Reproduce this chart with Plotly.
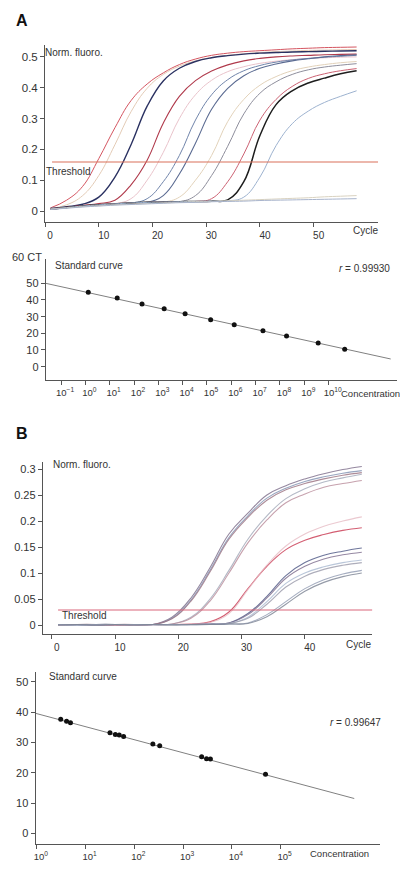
import plotly.graph_objects as go

W, H = 400, 873
FONT = "Liberation Sans, Arial, sans-serif"
TXT = "#333333"
AX = "#555555"

# ---------------- Panel A: amplification curves ----------------
cycles_a = [1, 4, 7, 10, 13, 16, 19, 22, 25, 28, 31, 34, 37, 40, 43, 46, 49, 52, 55, 58]
a_curves = [
    [0.010, 0.035, 0.080, 0.170, 0.270, 0.358, 0.412, 0.448, 0.475, 0.493, 0.505, 0.512, 0.517, 0.520, 0.523, 0.526, 0.528, 0.530, 0.531, 0.532],
    [0.008, 0.020, 0.050, 0.115, 0.215, 0.322, 0.398, 0.443, 0.470, 0.487, 0.498, 0.505, 0.510, 0.514, 0.517, 0.519, 0.521, 0.522, 0.523, 0.524],
    [0.008, 0.014, 0.022, 0.045, 0.110, 0.215, 0.340, 0.422, 0.463, 0.485, 0.497, 0.504, 0.509, 0.512, 0.514, 0.516, 0.517, 0.518, 0.519, 0.520],
    [0.007, 0.012, 0.018, 0.024, 0.035, 0.085, 0.165, 0.285, 0.372, 0.423, 0.454, 0.474, 0.487, 0.495, 0.500, 0.503, 0.505, 0.507, 0.508, 0.509],
    [0.006, 0.011, 0.016, 0.020, 0.024, 0.040, 0.100, 0.190, 0.300, 0.377, 0.424, 0.452, 0.468, 0.479, 0.486, 0.491, 0.495, 0.497, 0.499, 0.500],
    [0.006, 0.011, 0.016, 0.020, 0.023, 0.026, 0.040, 0.095, 0.180, 0.295, 0.377, 0.426, 0.455, 0.472, 0.483, 0.490, 0.495, 0.499, 0.502, 0.505],
    [0.006, 0.011, 0.016, 0.020, 0.023, 0.026, 0.028, 0.050, 0.120, 0.220, 0.330, 0.398, 0.439, 0.463, 0.477, 0.487, 0.494, 0.500, 0.504, 0.507],
    [0.006, 0.011, 0.016, 0.020, 0.023, 0.026, 0.028, 0.029, 0.045, 0.100, 0.180, 0.290, 0.362, 0.408, 0.436, 0.455, 0.467, 0.475, 0.481, 0.485],
    [0.006, 0.011, 0.016, 0.020, 0.023, 0.026, 0.028, 0.029, 0.030, 0.050, 0.115, 0.210, 0.315, 0.382, 0.419, 0.443, 0.458, 0.467, 0.473, 0.478],
    [0.006, 0.011, 0.016, 0.020, 0.023, 0.026, 0.028, 0.029, 0.030, 0.031, 0.040, 0.095, 0.185, 0.295, 0.362, 0.404, 0.430, 0.445, 0.455, 0.462],
    [0.006, 0.011, 0.016, 0.020, 0.023, 0.026, 0.028, 0.029, 0.030, 0.031, 0.032, 0.036, 0.095, 0.245, 0.345, 0.390, 0.415, 0.431, 0.445, 0.455],
    [0.006, 0.011, 0.016, 0.020, 0.023, 0.026, 0.028, 0.029, 0.030, 0.031, 0.032, 0.033, 0.045, 0.110, 0.212, 0.283, 0.324, 0.352, 0.372, 0.390],
    [0.006, 0.010, 0.014, 0.017, 0.020, 0.022, 0.024, 0.026, 0.028, 0.030, 0.031, 0.033, 0.035, 0.037, 0.039, 0.041, 0.043, 0.046, 0.048, 0.050],
    [0.005, 0.009, 0.013, 0.016, 0.019, 0.021, 0.023, 0.025, 0.027, 0.028, 0.030, 0.031, 0.032, 0.034, 0.035, 0.036, 0.037, 0.038, 0.039, 0.040],
]
a_colors = ["#d45560", "#e3cbb6", "#2b3262", "#b03a4c", "#e9c3cb", "#7084aa",
            "#5b6b92", "#e2d2ba", "#8e8e9c", "#cc6273", "#1e1e1e", "#9db2cf",
            "#d9d2c0", "#a8b4cc"]
a_widths = [1.0, 1.0, 1.4, 1.1, 1.0, 1.0, 1.1, 1.0, 1.0, 1.0, 1.5, 1.0, 1.0, 1.0]
threshold_a = 0.159
a_xticks = [0, 10, 20, 30, 40, 50]
a_yticks = [0, 0.1, 0.2, 0.3, 0.4, 0.5]
a_yticktext = ["0", "0.1", "0.2", "0.3", "0.4", "0.5"]

# ---------------- Panel A: standard curve ----------------
std_a_logconc = [0.12, 1.31, 2.33, 3.24, 4.10, 5.15, 6.12, 7.30, 8.27, 9.57, 10.66]
std_a_ct = [44.6, 41.2, 37.6, 34.8, 31.8, 28.2, 25.2, 21.6, 18.4, 14.2, 10.4]
fit_a_logconc = [-1.63, 12.55]
fit_a_ct = [50.0, 4.6]
std_a_yticks = [0, 10, 20, 30, 40, 50]
std_a_xexp = list(range(-1, 11))
r_a = "0.99930"

# ---------------- Panel B: amplification curves ----------------
cycles_b = [1, 4, 7, 10, 13, 16, 19, 22, 25, 28, 31, 34, 37, 40, 43, 46, 49]
b_curves = [
    [0.001, 0.000, 0.001, 0.001, 0.000, 0.001, 0.015, 0.052, 0.110, 0.175, 0.215, 0.250, 0.268, 0.281, 0.291, 0.299, 0.305],
    [0.001, 0.001, 0.000, 0.001, 0.001, 0.001, 0.013, 0.048, 0.105, 0.168, 0.210, 0.244, 0.263, 0.276, 0.285, 0.292, 0.297],
    [0.000, 0.001, 0.001, 0.000, 0.001, 0.001, 0.012, 0.046, 0.102, 0.165, 0.207, 0.240, 0.260, 0.272, 0.281, 0.288, 0.293],
    [0.001, 0.000, 0.001, 0.001, 0.000, 0.001, 0.002, 0.015, 0.050, 0.105, 0.165, 0.210, 0.243, 0.262, 0.275, 0.283, 0.290],
    [0.001, 0.001, 0.000, 0.001, 0.001, 0.000, 0.002, 0.013, 0.046, 0.100, 0.158, 0.202, 0.235, 0.252, 0.265, 0.272, 0.278],
    [0.001, 0.001, 0.001, 0.000, 0.001, 0.001, 0.001, 0.002, 0.006, 0.025, 0.070, 0.113, 0.145, 0.163, 0.174, 0.182, 0.187],
    [0.000, 0.001, 0.001, 0.001, 0.000, 0.001, 0.001, 0.002, 0.005, 0.022, 0.068, 0.115, 0.152, 0.175, 0.190, 0.200, 0.208],
    [0.001, 0.001, 0.000, 0.001, 0.001, 0.001, 0.001, 0.001, 0.002, 0.004, 0.022, 0.055, 0.095, 0.120, 0.134, 0.142, 0.148],
    [0.000, 0.001, 0.001, 0.001, 0.000, 0.001, 0.001, 0.001, 0.002, 0.004, 0.020, 0.052, 0.090, 0.113, 0.127, 0.135, 0.140],
    [0.001, 0.000, 0.001, 0.001, 0.001, 0.000, 0.001, 0.001, 0.002, 0.003, 0.015, 0.045, 0.080, 0.100, 0.112, 0.120, 0.125],
    [0.000, 0.001, 0.000, 0.001, 0.001, 0.001, 0.000, 0.001, 0.001, 0.003, 0.013, 0.040, 0.073, 0.094, 0.107, 0.115, 0.120],
    [0.001, 0.000, 0.001, 0.000, 0.001, 0.001, 0.001, 0.000, 0.001, 0.002, 0.004, 0.020, 0.045, 0.070, 0.087, 0.098, 0.105],
    [0.000, 0.001, 0.000, 0.001, 0.000, 0.001, 0.000, 0.001, 0.001, 0.002, 0.003, 0.016, 0.040, 0.065, 0.082, 0.093, 0.100],
]
b_colors = ["#7a6a88", "#8090b0", "#9a7080", "#a0a8b8", "#b88a98", "#c8364f",
            "#e6bcc4", "#4a5482", "#7c6c8c", "#a8b8cf", "#9a9aaa", "#8f98b0", "#7a8292"]
threshold_b = 0.029
b_xticks = [0, 10, 20, 30, 40]
b_yticks = [0, 0.05, 0.1, 0.15, 0.2, 0.25, 0.3]
b_yticktext = ["0", "0.05", "0.1", "0.15", "0.2", "0.25", "0.3"]

# ---------------- Panel B: standard curve ----------------
std_b_logconc = [0.49, 0.61, 0.69, 1.50, 1.61, 1.69, 1.78, 2.38, 2.52, 3.38, 3.48, 3.56, 4.69]
std_b_ct = [37.6, 37.0, 36.5, 33.2, 32.6, 32.4, 31.9, 29.5, 28.9, 25.3, 24.6, 24.5, 19.5]
fit_b_logconc = [-0.03, 6.51]
fit_b_ct = [39.6, 11.5]
std_b_yticks = [0, 10, 20, 30, 40, 50]
std_b_xexp = list(range(0, 6))
r_b = "0.99647"


def dx(px):
    return px / W


def dy(py):
    return 1 - py / H


fig = go.Figure()

# Panel A amplification
for vals, col, lw in zip(a_curves, a_colors, a_widths):
    fig.add_trace(go.Scatter(x=cycles_a, y=vals, mode="lines", xaxis="x", yaxis="y",
                             line=dict(color=col, width=lw, shape="spline", smoothing=1.2),
                             hoverinfo="skip", showlegend=False))
fig.add_trace(go.Scatter(x=[1.3, 62], y=[threshold_a, threshold_a], mode="lines", xaxis="x", yaxis="y",
                         line=dict(color="#d9705a", width=1.2), showlegend=False, hoverinfo="skip"))

# Panel A standard curve
fig.add_trace(go.Scatter(x=[10 ** e for e in fit_a_logconc], y=fit_a_ct, mode="lines",
                         xaxis="x2", yaxis="y2", line=dict(color="#808080", width=1),
                         showlegend=False, hoverinfo="skip"))
fig.add_trace(go.Scatter(x=[10 ** e for e in std_a_logconc], y=std_a_ct, mode="markers",
                         xaxis="x2", yaxis="y2", marker=dict(color="#111111", size=5),
                         showlegend=False))

# Panel B amplification
for vals, col in zip(b_curves, b_colors):
    fig.add_trace(go.Scatter(x=cycles_b, y=vals, mode="lines", xaxis="x3", yaxis="y3",
                             line=dict(color=col, width=1.1, shape="spline", smoothing=1.2),
                             opacity=0.8, hoverinfo="skip", showlegend=False))
fig.add_trace(go.Scatter(x=[1, 51], y=[threshold_b, threshold_b], mode="lines", xaxis="x3", yaxis="y3",
                         line=dict(color="#d9667a", width=1.1), showlegend=False, hoverinfo="skip"))

# Panel B standard curve
fig.add_trace(go.Scatter(x=[10 ** e for e in fit_b_logconc], y=fit_b_ct, mode="lines",
                         xaxis="x4", yaxis="y4", line=dict(color="#808080", width=1),
                         showlegend=False, hoverinfo="skip"))
fig.add_trace(go.Scatter(x=[10 ** e for e in std_b_logconc], y=std_b_ct, mode="markers",
                         xaxis="x4", yaxis="y4", marker=dict(color="#111111", size=5),
                         showlegend=False))


def axstyle(**kw):
    base = dict(showline=True, linecolor=AX, linewidth=1, ticks="outside", ticklen=4,
                tickcolor=AX, tickwidth=1, showgrid=False, zeroline=False,
                tickfont=dict(family=FONT, size=11, color=TXT))
    base.update(kw)
    return base


def sup(e):
    return "10<sup>%s</sup>" % (str(e).replace("-", "\u2212"))


fig.update_layout(
    width=W, height=H, margin=dict(l=0, r=0, t=0, b=0),
    paper_bgcolor="white", plot_bgcolor="white",
    font=dict(family=FONT, color=TXT),
    xaxis=axstyle(domain=[dx(43.3), dx(378)], range=[0, 62], anchor="y",
                  tickvals=a_xticks, ticklabelshift=5,
                  tickfont=dict(family=FONT, size=10, color=TXT)),
    yaxis=axstyle(domain=[dy(221.7), dy(45)], range=[-0.0347, 0.5385], anchor="x",
                  tickvals=a_yticks, ticktext=a_yticktext,
                  tickfont=dict(family=FONT, size=11.5, color=TXT)),
    xaxis2=axstyle(domain=[dx(44), dx(397)], type="log", range=[-1.626, 12.81], anchor="y2",
                   tickvals=[10 ** e for e in std_a_xexp], ticktext=[sup(e) for e in std_a_xexp],
                   ticklabelshift=4, tickfont=dict(family=FONT, size=9.5, color=TXT)),
    yaxis2=axstyle(domain=[dy(380), dy(259.3)], range=[-8, 64.4], anchor="x2",
                   tickvals=std_a_yticks),
    xaxis3=axstyle(domain=[dx(41), dx(372)], range=[-1.415, 50.63], anchor="y3",
                   tickvals=b_xticks, ticklabelshift=5,
                   tickfont=dict(family=FONT, size=10, color=TXT)),
    yaxis3=axstyle(domain=[dy(634), dy(462)], range=[-0.0173, 0.3135], anchor="x3",
                   tickvals=b_yticks, ticktext=b_yticktext),
    xaxis4=axstyle(domain=[dx(33.7), dx(380)], type="log", range=[-0.0265, 7.04], anchor="y4",
                   tickvals=[10 ** e for e in std_b_xexp], ticktext=[sup(e) for e in std_b_xexp],
                   ticklabelshift=4, tickfont=dict(family=FONT, size=9.5, color=TXT)),
    yaxis4=axstyle(domain=[dy(844), dy(671.7)], range=[-3.5, 53.3], anchor="x4",
                   tickvals=std_b_yticks),
)


def note(text, px, py, size=10, xanchor="left", bold=False):
    fig.add_annotation(text=("<b>%s</b>" % text) if bold else text, x=dx(px), y=dy(py),
                       xref="paper", yref="paper", xanchor=xanchor, yanchor="middle",
                       showarrow=False, font=dict(family=FONT, size=size, color=TXT if not bold else "#111"))


note("A", 20, 20.5, size=16, xanchor="center", bold=True)
note("B", 20.5, 433, size=16, xanchor="center", bold=True)
note("Norm. fluoro.", 41, 52.5, size=10)
note("Threshold", 42, 171.7, size=10)
note("Cycle", 365, 230.5, size=10, xanchor="center")
note("60 CT", 42, 256.7, size=11, xanchor="right")
note("Standard curve", 51, 265.7, size=10)
note("<i>r</i> = " + r_a, 337, 268.3, size=10)
note("Concentration", 339, 394, size=9.5)
note("Norm. fluoro.", 49, 464, size=10)
note("Threshold", 58, 615.8, size=10)
note("Cycle", 358, 644, size=10, xanchor="center")
note("Standard curve", 45.5, 676.7, size=10)
note("<i>r</i> = " + r_b, 328, 722.7, size=10)
note("Concentration", 308, 853.3, size=9.5)

fig.write_html("out.html", config={"displayModeBar": False, "staticPlot": True},
               post_script="document.body.style.margin='0';document.body.style.overflow='hidden';")
